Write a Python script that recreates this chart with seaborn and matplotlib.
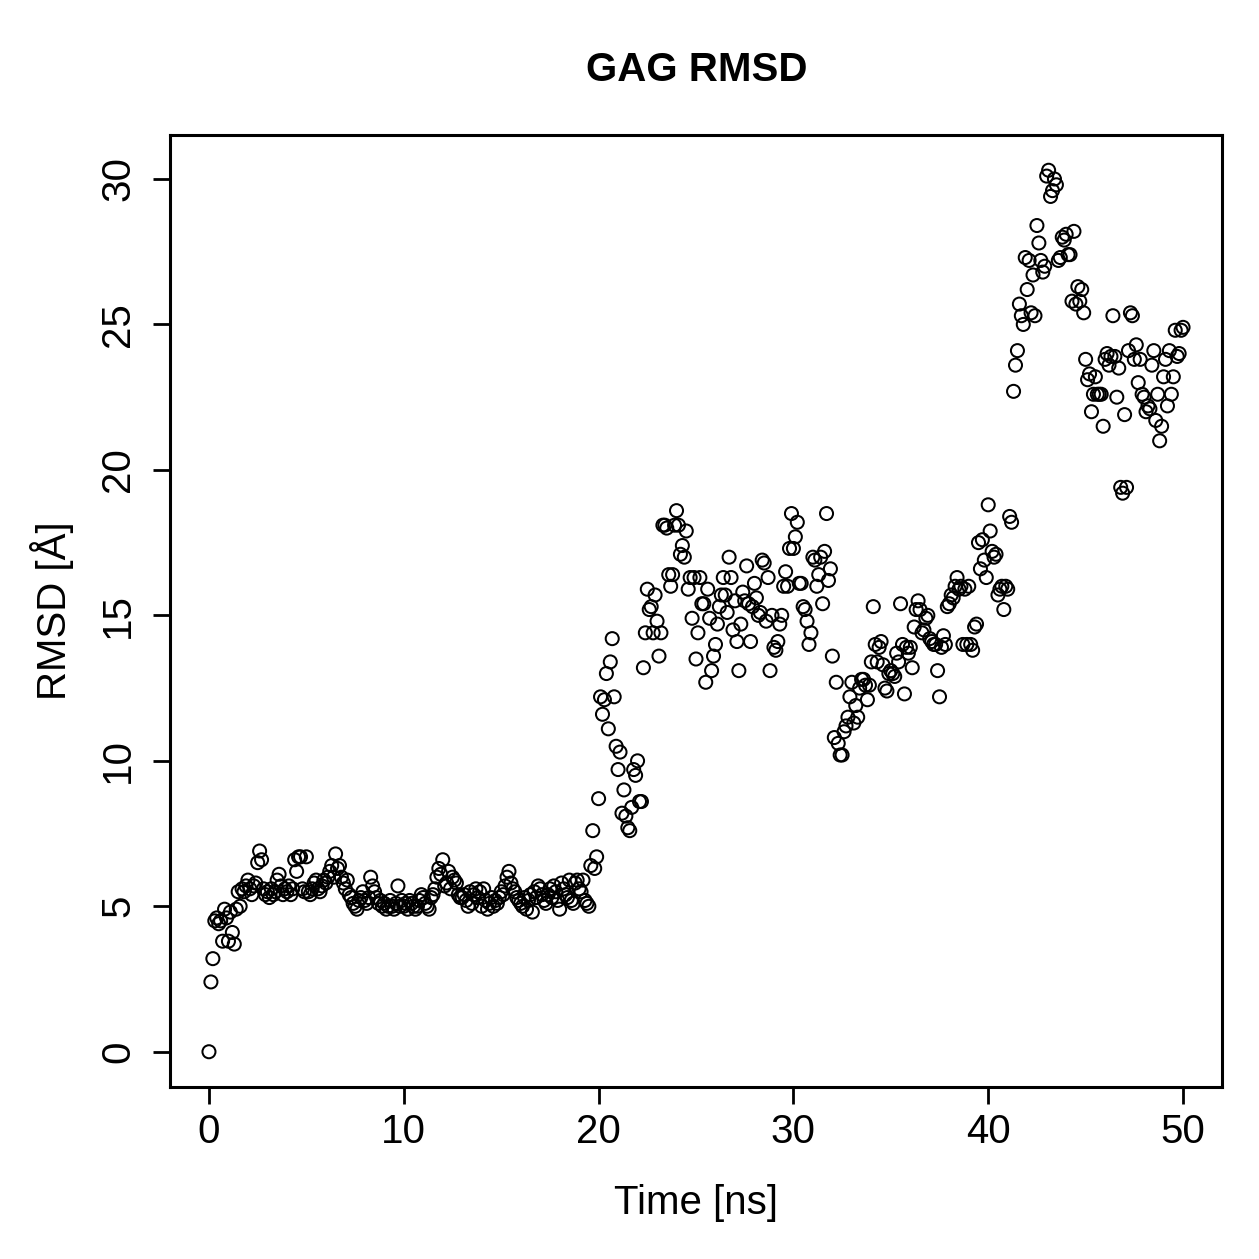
import numpy as np
import pandas as pd
import matplotlib
matplotlib.use("Agg")
import matplotlib.pyplot as plt
import seaborn as sns

# RMSD values, one every 0.1 ns (chunks of 1 ns)
rmsd_00_10 = [
    0.0, 2.4, 3.2, 4.5, 4.6, 4.4, 4.5, 3.8, 4.9, 4.6,
    3.8, 4.8, 4.1, 3.7, 4.9, 5.5, 5.0, 5.6, 5.5, 5.7,
    5.9, 5.6, 5.4, 5.7, 5.8, 6.5, 6.9, 6.6, 5.6, 5.4,
    5.5, 5.3, 5.6, 5.4, 5.5, 5.9, 6.1, 5.7, 5.4, 5.6,
    5.5, 5.7, 5.4, 5.6, 6.6, 6.2, 6.7, 6.7, 5.6, 5.5,
    6.7, 5.5, 5.4, 5.6, 5.8, 5.9, 5.6, 5.5, 5.7, 5.9,
    5.8, 6.0, 6.2, 6.4, 6.0, 6.8, 6.3, 6.4, 6.0, 5.8,
    5.6, 5.9, 5.4, 5.3, 5.1, 5.0, 4.9, 5.2, 5.3, 5.5,
    5.2, 5.1, 5.3, 6.0, 5.7, 5.5, 5.3, 5.1, 5.2, 5.0,
    5.1, 4.9, 5.0, 5.2, 5.0, 4.9, 5.1, 5.7, 5.0, 5.2,
]
rmsd_10_20 = [
    5.0, 5.1, 4.9, 5.2, 5.1, 5.0, 4.9, 5.0, 5.2, 5.4,
    5.3, 5.1, 5.0, 4.9, 5.3, 5.4, 5.6, 6.0, 6.3, 6.1,
    6.6, 5.7, 5.8, 6.2, 5.6, 6.0, 5.9, 5.8, 5.4, 5.3,
    5.3, 5.4, 5.2, 5.0, 5.5, 5.1, 5.4, 5.6, 5.3, 5.5,
    5.0, 5.6, 5.2, 4.9, 5.1, 5.3, 5.0, 5.2, 5.1, 5.3,
    5.5, 5.4, 5.7, 6.0, 6.2, 5.8, 5.6, 5.5, 5.3, 5.2,
    5.1, 5.0, 5.3, 4.9, 5.2, 5.4, 4.8, 5.5, 5.3, 5.7,
    5.6, 5.4, 5.2, 5.1, 5.4, 5.6, 5.3, 5.7, 5.5, 5.2,
    4.9, 5.8, 5.6, 5.4, 5.3, 5.9, 5.2, 5.1, 5.8, 5.9,
    5.6, 5.5, 5.9, 5.2, 5.1, 5.0, 6.4, 7.6, 6.3, 6.7,
]
rmsd_20_30 = [
    8.7, 12.2, 11.6, 12.1, 13.0, 11.1, 13.4, 14.2, 12.2, 10.5,
    9.7, 10.3, 8.2, 9.0, 8.1, 7.7, 7.6, 8.4, 9.7, 9.5,
    10.0, 8.6, 8.6, 13.2, 14.4, 15.9, 15.2, 15.3, 14.4, 15.7,
    14.8, 13.6, 14.4, 18.1, 18.1, 18.0, 16.4, 16.0, 16.4, 18.1,
    18.6, 18.1, 17.1, 17.4, 17.0, 17.9, 15.9, 16.3, 14.9, 16.3,
    13.5, 14.4, 16.3, 15.4, 15.4, 12.7, 15.9, 14.9, 13.1, 13.6,
    14.0, 14.7, 15.3, 15.7, 16.3, 15.7, 15.1, 17.0, 16.3, 14.5,
    15.5, 14.1, 13.1, 14.7, 15.8, 15.5, 16.7, 15.4, 14.1, 15.3,
    16.1, 15.6, 15.0, 15.1, 16.9, 16.8, 14.8, 16.3, 13.1, 15.0,
    13.9, 13.8, 14.1, 14.7, 15.0, 16.0, 16.5, 16.0, 17.3, 18.5,
]
rmsd_30_40 = [
    17.3, 17.7, 18.2, 16.1, 16.1, 15.3, 15.2, 14.8, 14.0, 14.4,
    17.0, 16.9, 16.0, 16.4, 17.0, 15.4, 17.2, 18.5, 16.2, 16.6,
    13.6, 10.8, 12.7, 10.6, 10.2, 10.2, 11.0, 11.2, 11.5, 12.2,
    12.7, 11.3, 11.9, 11.5, 12.5, 12.8, 12.8, 12.6, 12.1, 12.6,
    13.4, 15.3, 14.0, 13.4, 13.9, 14.1, 13.3, 12.5, 12.4, 13.0,
    13.1, 13.0, 12.9, 13.7, 13.4, 15.4, 14.0, 12.3, 13.9, 13.7,
    13.9, 13.2, 14.6, 15.2, 15.5, 15.2, 14.4, 14.5, 14.9, 15.0,
    14.2, 14.1, 14.0, 14.0, 13.1, 12.2, 13.9, 14.3, 14.0, 15.3,
    15.4, 15.7, 15.6, 16.0, 16.3, 15.9, 16.0, 14.0, 15.9, 14.0,
    16.0, 14.0, 13.8, 14.6, 14.7, 17.5, 16.6, 17.6, 16.9, 16.3,
]
rmsd_40_50 = [
    18.8, 17.9, 17.2, 17.0, 17.1, 15.7, 15.9, 16.0, 15.2, 16.0,
    15.9, 18.4, 18.2, 22.7, 23.6, 24.1, 25.7, 25.3, 25.0, 27.3,
    26.2, 27.2, 25.4, 26.7, 25.3, 28.4, 27.8, 27.2, 26.8, 27.0,
    30.1, 30.3, 29.4, 29.6, 30.0, 29.8, 27.2, 27.3, 28.0, 27.9,
    28.1, 27.4, 27.4, 25.8, 28.2, 25.7, 26.3, 25.8, 26.2, 25.4,
    23.8, 23.1, 23.3, 22.0, 22.6, 23.2, 22.6, 22.6, 22.6, 21.5,
    23.8, 24.0, 23.6, 23.9, 25.3, 23.9, 22.5, 23.5, 19.4, 19.2,
    21.9, 19.4, 24.1, 25.4, 25.3, 23.8, 24.3, 23.0, 23.8, 22.6,
    22.5, 22.0, 22.2, 22.1, 23.6, 24.1, 21.7, 22.6, 21.0, 21.5,
    23.2, 23.8, 22.2, 24.1, 22.6, 23.2, 24.8, 23.9, 24.0, 24.8,
    24.9,
]
rmsd = rmsd_00_10 + rmsd_10_20 + rmsd_20_30 + rmsd_30_40 + rmsd_40_50
time_step_ns = 0.1
time_ns = [round(i * time_step_ns, 1) for i in range(len(rmsd))]

x_ticks = [0, 10, 20, 30, 40, 50]
y_ticks = [0, 5, 10, 15, 20, 25, 30]
title = "GAG RMSD"
x_label = "Time [ns]"
y_label = "RMSD [Å]"

df = pd.DataFrame({"time": time_ns, "rmsd": rmsd})

sns.set_theme(style="white")
plt.rcParams["font.family"] = ["Liberation Sans", "DejaVu Sans"]
plt.rcParams["text.color"] = "black"
plt.rcParams["axes.labelcolor"] = "black"
plt.rcParams["xtick.color"] = "black"
plt.rcParams["ytick.color"] = "black"

FS = 29

fig = plt.figure(figsize=(12.59, 12.59), dpi=100)
ax = fig.add_axes([170 / 1259, 1 - 1087 / 1259, (1222 - 170) / 1259, (1087 - 135) / 1259])

sns.scatterplot(data=df, x="time", y="rmsd", ax=ax, marker="o", s=88,
                facecolor="none", edgecolor="black", linewidth=1.45)

ax.set_xlim(-2, 52)
ax.set_ylim(-1.212, 31.512)
ax.set_xticks(x_ticks)
ax.set_yticks(y_ticks)
ax.set_xticklabels([str(t) for t in x_ticks], fontsize=FS)
ax.set_yticklabels([str(t) for t in y_ticks], fontsize=FS, rotation=90, va="center")
ax.tick_params(axis="both", direction="out", length=12.5, width=2.0, color="black",
               bottom=True, left=True)
ax.tick_params(axis="x", pad=6)
ax.tick_params(axis="y", pad=11)
for sp in ax.spines.values():
    sp.set_visible(True)
    sp.set_color("black")
    sp.set_linewidth(2.2)

ax.set_xlabel(x_label, fontsize=FS)
ax.set_ylabel(y_label, fontsize=FS)
ax.xaxis.label.set_va("center")
ax.yaxis.label.set_va("center")
ax.xaxis.set_label_coords(0.5, -(1203 - 1087) / (1087 - 135))
ax.yaxis.set_label_coords(-(170 - 52) / (1222 - 170), 0.5)
fig.text(0.5535, 1 - 70 / 1259, title, ha="center", va="center", fontsize=FS, fontweight="bold")

fig.savefig("out.png", dpi=100, facecolor="white")
